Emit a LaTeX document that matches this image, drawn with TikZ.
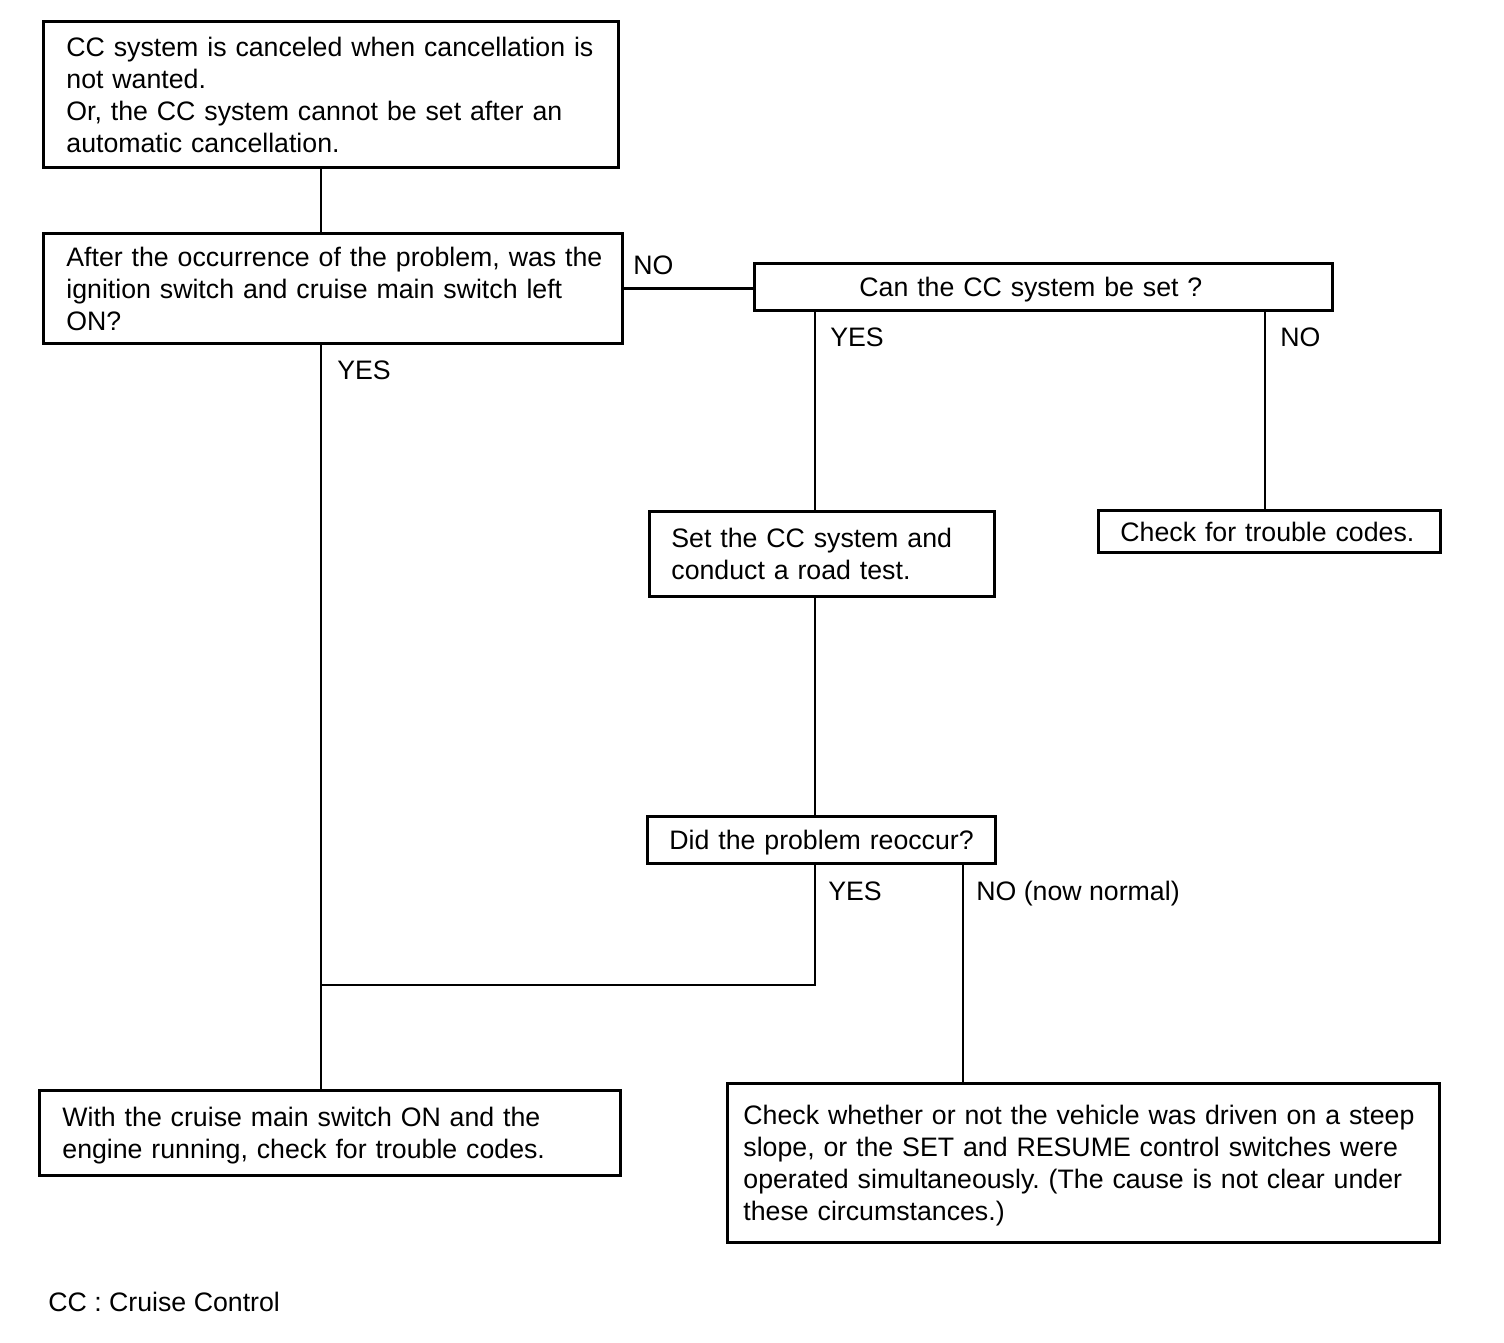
\documentclass[tikz,border=0pt]{standalone}
\usepackage{fontspec}
\setmainfont{Liberation Sans}
\newcommand{\lines}[1]{\raisebox{-1.9pt}[\height][\depth]{\begin{tabular}{@{}l@{}}#1\end{tabular}}}
\begin{document}
\frenchspacing
\begin{tikzpicture}[
  every node/.style={font=\fontsize{15.2}{18.2}\selectfont},
  box/.style={draw, line width=1.6pt, rectangle, anchor=north west, align=left, inner xsep=0.44cm, inner ysep=0pt},
  conn/.style={line width=1.6pt},
  lbl/.style={anchor=base west, inner sep=0pt}
]
\useasboundingbox (0,0) rectangle (30.08,-26.84);

\node[box, text width=11.5cm-0.92cm, minimum height=2.92cm, inner xsep=0.46cm] (b1) at (0.84,-0.40)
  {\lines{CC system is canceled when cancellation is\\not wanted.\\Or, the CC system cannot be set after an\\automatic cancellation.}};
\node[box, text width=11.58cm-0.92cm, minimum height=2.2cm, inner xsep=0.46cm] (b2) at (0.84,-4.64)
  {\lines{After the occurrence of the problem, was the\\ignition switch and cruise main switch left\\ON?}};
\node[box, text width=11.56cm-0.88cm, minimum height=0.94cm] (b3) at (15.06,-5.24)
  {\hspace*{1.66cm}\lines{Can the CC system be set ?}};
\node[box, text width=6.9cm-0.88cm, minimum height=1.7cm] (b4) at (12.96,-10.2)
  {\lines{Set the CC system and\\conduct a road test.}};
\node[box, text width=6.84cm-0.88cm, minimum height=0.84cm] (b5) at (21.94,-10.18)
  {\lines{Check for trouble codes.}};
\node[box, text width=6.96cm-0.88cm, minimum height=0.94cm] (b6) at (12.92,-16.3)
  {\lines{Did the problem reoccur?}};
\node[box, text width=11.62cm-0.92cm, minimum height=1.7cm, inner xsep=0.46cm] (b7) at (0.76,-21.78)
  {\lines{With the cruise main switch ON and the\\engine running, check for trouble codes.}};
\node[box, text width=14.24cm-0.64cm, minimum height=3.18cm, inner xsep=0.32cm] (b8) at (14.52,-21.64)
  {\lines{Check whether or not the vehicle was driven on a steep\\slope, or the SET and RESUME control switches were\\operated simultaneously. (The cause is not clear under\\these circumstances.)}};

\coordinate (xa) at (6.42,0);
\coordinate (xb) at (16.30,0);
\coordinate (xc) at (25.30,0);
\coordinate (xd) at (19.26,0);
\coordinate (j) at (6.42,-19.70);

\draw[conn] (b1.south -| xa) -- (b2.north -| xa);
\draw[conn] (b2.south -| xa) -- (b7.north -| xa);
\draw[conn] (b2.east) -- (b2.east -| b3.west);
\draw[conn] (b3.south -| xb) -- (b4.north -| xb);
\draw[conn] (b3.south -| xc) -- (b5.north -| xc);
\draw[conn] (b4.south -| xb) -- (b6.north -| xb);
\draw[conn] (b6.south -| xb) |- (j);
\draw[conn] (b6.south -| xd) -- (b8.north -| xd);

\node[lbl] (l1) at (12.66,-5.48) {NO};
\node[lbl] (l2) at (16.60,-6.92) {YES};
\node[lbl] (l3) at (25.60,-6.92) {NO};
\node[lbl] (l4) at (6.74,-7.58) {YES};
\node[lbl] (l5) at (16.56,-18.00) {YES};
\node[lbl] (l6) at (19.52,-18.00) {NO (now normal)};
\node[lbl] (l7) at (0.96,-26.22) {CC : Cruise Control};
\end{tikzpicture}
\end{document}
